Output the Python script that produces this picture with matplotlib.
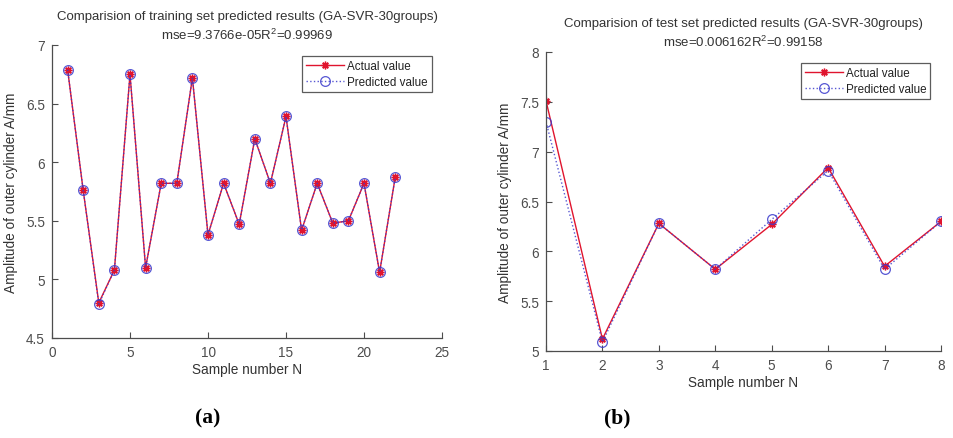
import matplotlib.pyplot as plt
import numpy as np

plt.rcParams['font.family'] = ['Liberation Sans', 'DejaVu Sans']
plt.rcParams['mathtext.default'] = 'regular'

# training set (a)
train_n = np.arange(1, 23)
train_actual = [6.79, 5.76, 4.80, 5.08, 6.75, 5.10, 5.82, 5.82, 6.72, 5.38, 5.82,
                5.47, 6.20, 5.82, 6.39, 5.42, 5.82, 5.48, 5.50, 5.82, 5.06, 5.87]
train_pred = [6.79, 5.76, 4.79, 5.08, 6.75, 5.10, 5.82, 5.82, 6.72, 5.38, 5.82,
              5.47, 6.20, 5.82, 6.39, 5.42, 5.82, 5.48, 5.50, 5.82, 5.06, 5.87]

# test set (b)
test_n = np.arange(1, 9)
test_actual = [7.51, 5.12, 6.28, 5.82, 6.27, 6.84, 5.85, 6.30]
test_pred = [7.30, 5.09, 6.28, 5.82, 6.32, 6.81, 5.82, 6.30]

axis_col = '#4d4d4d'


def style_axes(ax):
    for s in ['top', 'right']:
        ax.spines[s].set_visible(False)
    for s in ['left', 'bottom']:
        ax.spines[s].set_color(axis_col)
        ax.spines[s].set_linewidth(0.9)
    ax.tick_params(direction='in', length=4, width=0.8, colors=axis_col,
                   labelsize=9.8, pad=5)


def draw(ax, n, actual, pred, title):
    # MATLAB style '*' marker -> 8 spoke asterisk
    ax.plot(n, actual, '-', color='#e0142e', lw=1.0, marker=(8, 2, 0), ms=5.5,
            mew=1.0, label='Actual value')
    ax.plot(n, pred, ':o', color='#3a3acc', lw=1.0, ms=7, mfc='none',
            mew=0.9, label='Predicted value', alpha=0.85)
    ax.set_title(title, fontsize=9.5, color='#333333', pad=4, linespacing=1.45)
    ax.set_xlabel('Sample number N', fontsize=9.8, color='#333333', labelpad=2)
    ax.set_ylabel('Amplitude of outer cylinder A/mm', fontsize=9.8,
                  color='#333333', labelpad=6)
    style_axes(ax)
    leg = ax.legend(loc='upper right', fontsize=8.4, frameon=True, fancybox=False,
                    edgecolor='#333333', handlelength=3.3, borderpad=0.35,
                    labelspacing=0.4, handletextpad=0.2, borderaxespad=0.9)
    leg.get_frame().set_linewidth(0.9)
    for t in leg.get_texts():
        t.set_color('#222222')


fig = plt.figure(figsize=(9.54, 4.39), dpi=100)
W, H = 954, 439

ax1 = fig.add_axes([52 / W, 1 - 339 / H, (442 - 52) / W, (339 - 46) / H])
draw(ax1, train_n, train_actual, train_pred,
     'Comparision of training set predicted results (GA-SVR-30groups)\n'
     'mse=9.3766e-05R$^2$=0.99969')
ax1.set_xlim(0, 25)
ax1.set_ylim(4.5, 7)
ax1.set_xticks(np.arange(0, 26, 5))
ax1.set_yticks(np.arange(4.5, 7.01, 0.5))
ax1.set_yticklabels(['4.5', '5', '5.5', '6', '6.5', '7'])

ax2 = fig.add_axes([546 / W, 1 - 352 / H, (941 - 546) / W, (352 - 53) / H])
draw(ax2, test_n, test_actual, test_pred,
     'Comparision of test set predicted results (GA-SVR-30groups)\n'
     'mse=0.006162R$^2$=0.99158')
ax2.set_xlim(1, 8)
ax2.set_ylim(5, 8)
ax2.set_xticks(np.arange(1, 9))
ax2.set_yticks(np.arange(5, 8.01, 0.5))
ax2.set_yticklabels(['5', '5.5', '6', '6.5', '7', '7.5', '8'])

fig.text(208 / W, 1 - 418 / H, '(a)', family='Liberation Serif', weight='bold',
         fontsize=15.5, ha='center', va='center')
fig.text(617 / W, 1 - 418 / H, '(b)', family='Liberation Serif', weight='bold',
         fontsize=15.5, ha='center', va='center')

fig.savefig('out.png', dpi=100)
